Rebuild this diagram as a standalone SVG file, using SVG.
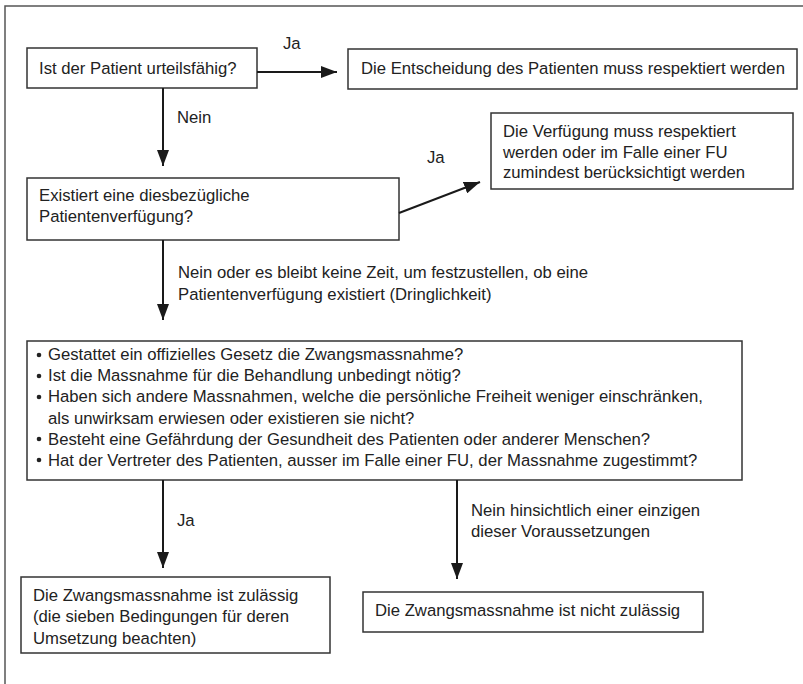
<svg xmlns="http://www.w3.org/2000/svg" width="803" height="684" viewBox="0 0 803 684">
<style>
text{font-family:"Liberation Sans",Arial,sans-serif;font-size:16.7px;fill:#222}
.box{fill:#fff;stroke:#333;stroke-width:1.5}
.con{stroke:#1a1a1a;stroke-width:2;fill:none;marker-end:url(#ah)}
.frame{stroke:#555;stroke-width:1.5;fill:none}
</style>
<defs>
<marker id="ah" markerUnits="userSpaceOnUse" markerWidth="16" markerHeight="12" refX="16" refY="6" orient="auto">
<path d="M0,0 L16,6 L0,12 z" fill="#1a1a1a"/>
</marker>
</defs>
<rect width="803" height="684" fill="#fff"/>
<path class="frame" d="M5,684 V6 H803"/>

<g id="n1"><rect class="box" x="27" y="48" width="230" height="40"/><text x="39" y="74">Ist der Patient urteilsfähig?</text></g>
<g id="n2"><rect class="box" x="348" y="49" width="449" height="40"/><text x="361" y="74">Die Entscheidung des Patienten muss respektiert werden</text></g>
<g id="n3"><rect class="box" x="27" y="178" width="372" height="62"/><text x="39" y="201">Existiert eine diesbezügliche</text><text x="39" y="222">Patientenverfügung?</text></g>
<g id="n4"><rect class="box" x="491" y="113" width="302" height="76"/><text x="503" y="137">Die Verfügung muss respektiert</text><text x="503" y="158">werden oder im Falle einer FU</text><text x="503" y="178">zumindest berücksichtigt werden</text></g>
<g id="n5"><rect class="box" x="27" y="341" width="715" height="139"/>
<g fill="#222"><circle cx="39" cy="355" r="2.3"/><circle cx="39" cy="376" r="2.3"/><circle cx="39" cy="397" r="2.3"/><circle cx="39" cy="439" r="2.3"/><circle cx="39" cy="460" r="2.3"/></g>
<text x="48" y="360">Gestattet ein offizielles Gesetz die Zwangsmassnahme?</text>
<text x="48" y="381">Ist die Massnahme für die Behandlung unbedingt nötig?</text>
<text x="48" y="402">Haben sich andere Massnahmen, welche die persönliche Freiheit weniger einschränken,</text>
<text x="48" y="424">als unwirksam erwiesen oder existieren sie nicht?</text>
<text x="48" y="445">Besteht eine Gefährdung der Gesundheit des Patienten oder anderer Menschen?</text>
<text x="48" y="466">Hat der Vertreter des Patienten, ausser im Falle einer FU, der Massnahme zugestimmt?</text>
</g>
<g id="n6"><rect class="box" x="21" y="577" width="309" height="76"/><text x="33" y="601">Die Zwangsmassnahme ist zulässig</text><text x="33" y="622">(die sieben Bedingungen für deren</text><text x="33" y="644">Umsetzung beachten)</text></g>
<g id="n7"><rect class="box" x="363" y="592" width="340" height="40"/><text x="375" y="616">Die Zwangsmassnahme ist nicht zulässig</text></g>

<g id="connectors">
<line class="con" x1="257" y1="72" x2="337" y2="72"/>
<line class="con" x1="163" y1="88" x2="163" y2="166"/>
<line class="con" x1="399" y1="213" x2="480" y2="182"/>
<line class="con" x1="163" y1="240" x2="163" y2="320"/>
<line class="con" x1="163" y1="480" x2="163" y2="568"/>
<line class="con" x1="457" y1="480" x2="457" y2="579"/>
<text x="283" y="49">Ja</text>
<text x="177" y="123">Nein</text>
<text x="427" y="163">Ja</text>
<text x="178" y="278">Nein oder es bleibt keine Zeit, um festzustellen, ob eine</text>
<text x="178" y="300">Patientenverfügung existiert (Dringlichkeit)</text>
<text x="177" y="526">Ja</text>
<text x="471" y="516">Nein hinsichtlich einer einzigen</text>
<text x="471" y="537">dieser Voraussetzungen</text>
</g>
</svg>
